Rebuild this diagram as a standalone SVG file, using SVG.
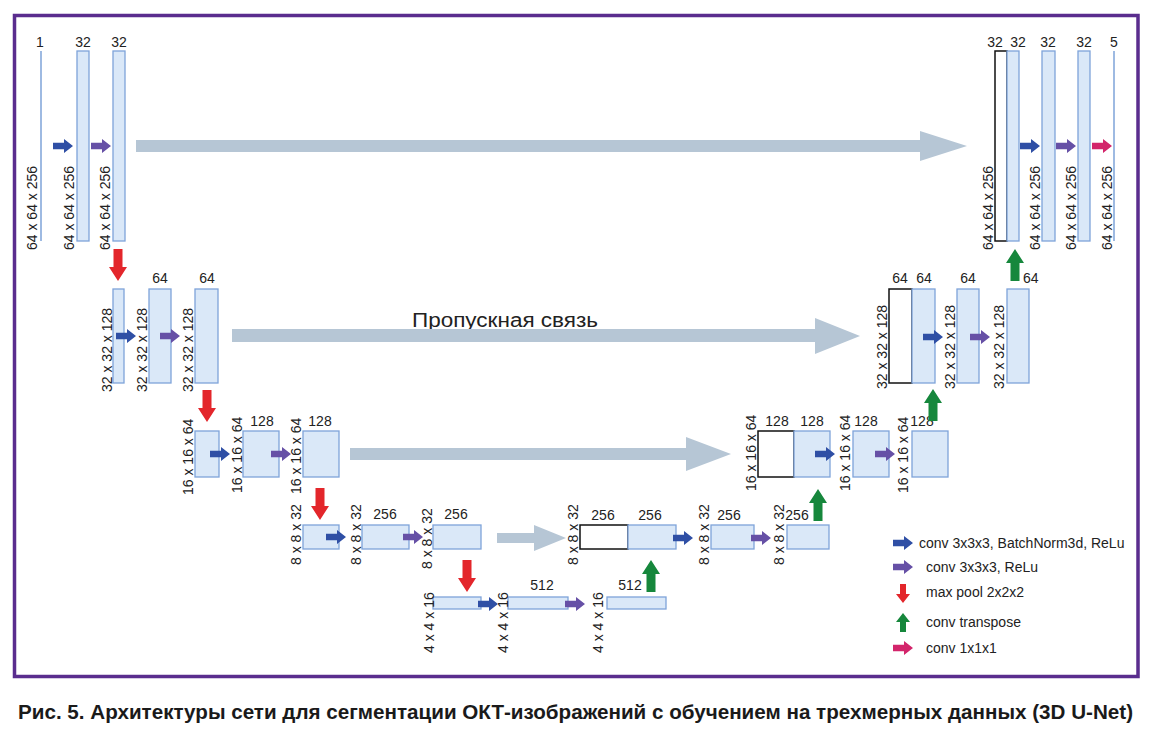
<svg xmlns="http://www.w3.org/2000/svg" xmlns:xlink="http://www.w3.org/1999/xlink" width="1152" height="737" viewBox="0 0 1152 737">
<style>
.t{font-family:"Liberation Sans",Arial,sans-serif;font-size:14px;fill:#222}
.m{text-anchor:middle}
.b{fill:#dae8f8;stroke:#7ea3d9;stroke-width:1.3}
.k{fill:#ffffff;stroke:#111;stroke-width:1.5}
.ln{stroke:#7ea3d9;stroke-width:1.5;fill:none}
.sk{fill:#b6c6d5}
.cb{fill:#2f4fa5}
.cp{fill:#6650a6}
.cr{fill:#e3262b}
.cg{fill:#16873c}
.cm{fill:#d3256b}
.lg{font-family:"Liberation Sans",Arial,sans-serif;font-size:14px;fill:#222}
</style>
<defs>
<path id="ar" d="M0,-3.2 H11 V-7 L20,0 L11,7 V3.2 H0 Z"/>
<path id="ad" d="M-4.5,0 V18 H-9 L0,32 L9,18 H4.5 V0 Z"/>
<path id="au" d="M-4.5,0 V-18 H-9 L0,-32 L9,-18 H4.5 V0 Z"/>
<path id="ads" d="M-3,0 V10 H-7 L0,19 L7,10 H3 V0 Z"/>
<path id="aus" d="M-3,0 V-10 H-7 L0,-19 L7,-10 H3 V0 Z"/>
</defs>
<rect x="0" y="0" width="1152" height="737" fill="#ffffff"/>
<rect x="14.5" y="15.5" width="1123.5" height="661" fill="none" stroke="#5a2d8e" stroke-width="3.5"/>

<text class="t" x="412" y="327" style="font-size:20px" textLength="186" lengthAdjust="spacingAndGlyphs">Пропускная связь</text>

<!-- Row 1 left -->
<g id="n1"><line class="ln" x1="41" y1="51" x2="41" y2="241"/><text class="t m" x="40" y="47">1</text><text class="t" transform="translate(37,250) rotate(-90)">64 x 64 x 256</text></g>
<g id="n2"><rect class="b" x="77" y="51" width="12" height="190"/><text class="t m" x="83" y="47">32</text><text class="t" transform="translate(74,250) rotate(-90)">64 x 64 x 256</text></g>
<g id="n3"><rect class="b" x="113" y="51" width="12" height="190"/><text class="t m" x="119" y="47">32</text><text class="t" transform="translate(110,250) rotate(-90)">64 x 64 x 256</text></g>

<!-- Row 1 right -->
<g id="n4"><rect class="k" x="995" y="51" width="12" height="190"/><rect class="b" x="1007" y="51" width="12" height="190"/><text class="t m" x="995" y="47">32</text><text class="t m" x="1018" y="47">32</text><text class="t" transform="translate(993,250) rotate(-90)">64 x 64 x 256</text></g>
<g id="n5"><rect class="b" x="1042" y="51" width="13" height="190"/><text class="t m" x="1048" y="47">32</text><text class="t" transform="translate(1040,250) rotate(-90)">64 x 64 x 256</text></g>
<g id="n6"><rect class="b" x="1078" y="51" width="12" height="190"/><text class="t m" x="1084" y="47">32</text><text class="t" transform="translate(1076,250) rotate(-90)">64 x 64 x 256</text></g>
<g id="n7"><line class="ln" x1="1114" y1="51" x2="1114" y2="241"/><text class="t m" x="1114" y="47">5</text><text class="t" transform="translate(1112,250) rotate(-90)">64 x 64 x 256</text></g>

<!-- Row 2 left -->
<g id="n8"><rect class="b" x="113" y="289" width="11" height="94"/><text class="t" transform="translate(112,392) rotate(-90)">32 x 32 x 128</text></g>
<g id="n9"><rect class="b" x="149" y="289" width="22" height="94"/><text class="t m" x="160" y="283">64</text><text class="t" transform="translate(147,392) rotate(-90)">32 x 32 x 128</text></g>
<g id="n10"><rect class="b" x="195" y="289" width="23" height="94"/><text class="t m" x="207" y="283">64</text><text class="t" transform="translate(193,392) rotate(-90)">32 x 32 x 128</text></g>

<!-- Row 2 right -->
<g id="n11"><rect class="k" x="889" y="289" width="23" height="94"/><rect class="b" x="912" y="289" width="23" height="94"/><text class="t m" x="900" y="283">64</text><text class="t m" x="924" y="283">64</text><text class="t" transform="translate(887,389) rotate(-90)">32 x 32 x 128</text></g>
<g id="n12"><rect class="b" x="957" y="289" width="22" height="94"/><text class="t m" x="968" y="283">64</text><text class="t" transform="translate(955,389) rotate(-90)">32 x 32 x 128</text></g>
<g id="n13"><rect class="b" x="1007" y="289" width="22" height="94"/><text class="t" x="1023" y="283">64</text><text class="t" transform="translate(1004,389) rotate(-90)">32 x 32 x 128</text></g>

<!-- Row 3 left -->
<g id="n14"><rect class="b" x="195" y="431" width="24" height="46"/><text class="t" transform="translate(193,495) rotate(-90)">16 x 16 x 64</text></g>
<g id="n15"><rect class="b" x="243" y="431" width="36" height="46"/><text class="t m" x="262" y="426">128</text><text class="t" transform="translate(242,493) rotate(-90)">16 x 16 x 64</text></g>
<g id="n16"><rect class="b" x="303" y="431" width="36" height="46"/><text class="t m" x="320" y="426">128</text><text class="t" transform="translate(301,494) rotate(-90)">16 x 16 x 64</text></g>

<!-- Row 3 right -->
<g id="n17"><rect class="k" x="758" y="431" width="36" height="46"/><rect class="b" x="794" y="431" width="36" height="46"/><text class="t m" x="777" y="426">128</text><text class="t m" x="812" y="426">128</text><text class="t" transform="translate(756,491) rotate(-90)">16 x 16 x 64</text></g>
<g id="n18"><rect class="b" x="853" y="431" width="36" height="46"/><text class="t m" x="866" y="426">128</text><text class="t" transform="translate(850,491) rotate(-90)">16 x 16 x 64</text></g>
<g id="n19"><rect class="b" x="912" y="431" width="36" height="46"/><text class="t m" x="922" y="426">128</text><text class="t" transform="translate(908,493) rotate(-90)">16 x 16 x 64</text></g>

<!-- Row 4 left -->
<g id="n20"><rect class="b" x="303" y="525" width="36" height="24"/><text class="t" transform="translate(301,565) rotate(-90)">8 x 8 x 32</text></g>
<g id="n21"><rect class="b" x="362" y="525" width="47" height="24"/><text class="t m" x="385" y="519">256</text><text class="t" transform="translate(361,565) rotate(-90)">8 x 8 x 32</text></g>
<g id="n22"><rect class="b" x="433" y="525" width="48" height="24"/><text class="t m" x="456" y="519">256</text><text class="t" transform="translate(432,569) rotate(-90)">8 x 8 x 32</text></g>

<!-- Row 4 right -->
<g id="n23"><rect class="k" x="580" y="525" width="48" height="24"/><rect class="b" x="628" y="525" width="48" height="24"/><text class="t m" x="603" y="520">256</text><text class="t m" x="650" y="520">256</text><text class="t" transform="translate(578,565) rotate(-90)">8 x 8 x 32</text></g>
<g id="n24"><rect class="b" x="711" y="525" width="43" height="24"/><text class="t m" x="729" y="520">256</text><text class="t" transform="translate(709,565) rotate(-90)">8 x 8 x 32</text></g>
<g id="n25"><rect class="b" x="787" y="525" width="42" height="24"/><text class="t m" x="797" y="520">256</text><text class="t" transform="translate(784,565) rotate(-90)">8 x 8 x 32</text></g>

<!-- Row 5 -->
<g id="n26"><rect class="b" x="433" y="597" width="48" height="12"/><text class="t" transform="translate(434,653) rotate(-90)">4 x 4 x 16</text></g>
<g id="n27"><rect class="b" x="508" y="597" width="60" height="12"/><text class="t m" x="542" y="590">512</text><text class="t" transform="translate(508,653) rotate(-90)">4 x 4 x 16</text></g>
<g id="n28"><rect class="b" x="607" y="597" width="59" height="12"/><text class="t m" x="630" y="590">512</text><text class="t" transform="translate(603,653) rotate(-90)">4 x 4 x 16</text></g>

<g id="connectors">
<path class="sk" d="M136,140 H920 V131 L967,146 L920,161 V152 H136 Z"/>
<path class="sk" d="M232,329 H815 V318 L860,336 L815,354 V342 H232 Z"/>
<path class="sk" d="M350,448 H686 V437 L731,454 L686,471 V460 H350 Z"/>
<path class="sk" d="M497,533 H534 V525 L566,538 L534,551 V543 H497 Z"/>
<use xlink:href="#ar" x="53" y="146" class="cb"/>
<use xlink:href="#ar" x="91" y="146" class="cp"/>
<use xlink:href="#ar" x="1020" y="146" class="cb"/>
<use xlink:href="#ar" x="1056" y="146" class="cp"/>
<use xlink:href="#ar" x="1092" y="146" class="cm"/>
<use xlink:href="#ar" x="116" y="336" class="cb"/>
<use xlink:href="#ar" x="160" y="336" class="cp"/>
<use xlink:href="#ar" x="923" y="337" class="cb"/>
<use xlink:href="#ar" x="970" y="337" class="cp"/>
<use xlink:href="#ar" x="210" y="454" class="cb"/>
<use xlink:href="#ar" x="271" y="454" class="cp"/>
<use xlink:href="#ar" x="815" y="454" class="cb"/>
<use xlink:href="#ar" x="875" y="454" class="cp"/>
<use xlink:href="#ar" x="326" y="537" class="cb"/>
<use xlink:href="#ar" x="403" y="537" class="cp"/>
<use xlink:href="#ar" x="673" y="538" class="cb"/>
<use xlink:href="#ar" x="751" y="538" class="cp"/>
<use xlink:href="#ar" x="478" y="604" class="cb"/>
<use xlink:href="#ar" x="565" y="604" class="cp"/>
<use xlink:href="#ad" x="118" y="249" class="cr"/>
<use xlink:href="#ad" x="207" y="390" class="cr"/>
<use xlink:href="#ad" x="320" y="488" class="cr"/>
<use xlink:href="#ad" x="467" y="560" class="cr"/>
<use xlink:href="#au" x="1015" y="281" class="cg"/>
<use xlink:href="#au" x="933" y="421" class="cg"/>
<use xlink:href="#au" x="818" y="521" class="cg"/>
<use xlink:href="#au" x="651" y="592" class="cg"/>
</g>

<!-- Legend -->
<g id="legend">
<use xlink:href="#ar" x="893" y="543" class="cb"/>
<text class="lg" x="919" y="548">conv 3x3x3, BatchNorm3d, ReLu</text>
<use xlink:href="#ar" x="893" y="567" class="cp"/>
<text class="lg" x="926" y="572">conv 3x3x3, ReLu</text>
<use xlink:href="#ads" x="903" y="584" class="cr"/>
<text class="lg" x="926" y="597">max pool 2x2x2</text>
<use xlink:href="#aus" x="903" y="632" class="cg"/>
<text class="lg" x="926" y="627">conv transpose</text>
<use xlink:href="#ar" x="893" y="648" class="cm"/>
<text class="lg" x="926" y="653">conv 1x1x1</text>
</g>

<text x="18" y="719" style="font-family:'Liberation Sans',Arial,sans-serif;font-size:21px;font-weight:bold;fill:#1a1a1a" textLength="1115" lengthAdjust="spacingAndGlyphs">Рис. 5. Архитектуры сети для сегментации ОКТ-изображений с обучением на трехмерных данных (3D U-Net)</text>
</svg>
